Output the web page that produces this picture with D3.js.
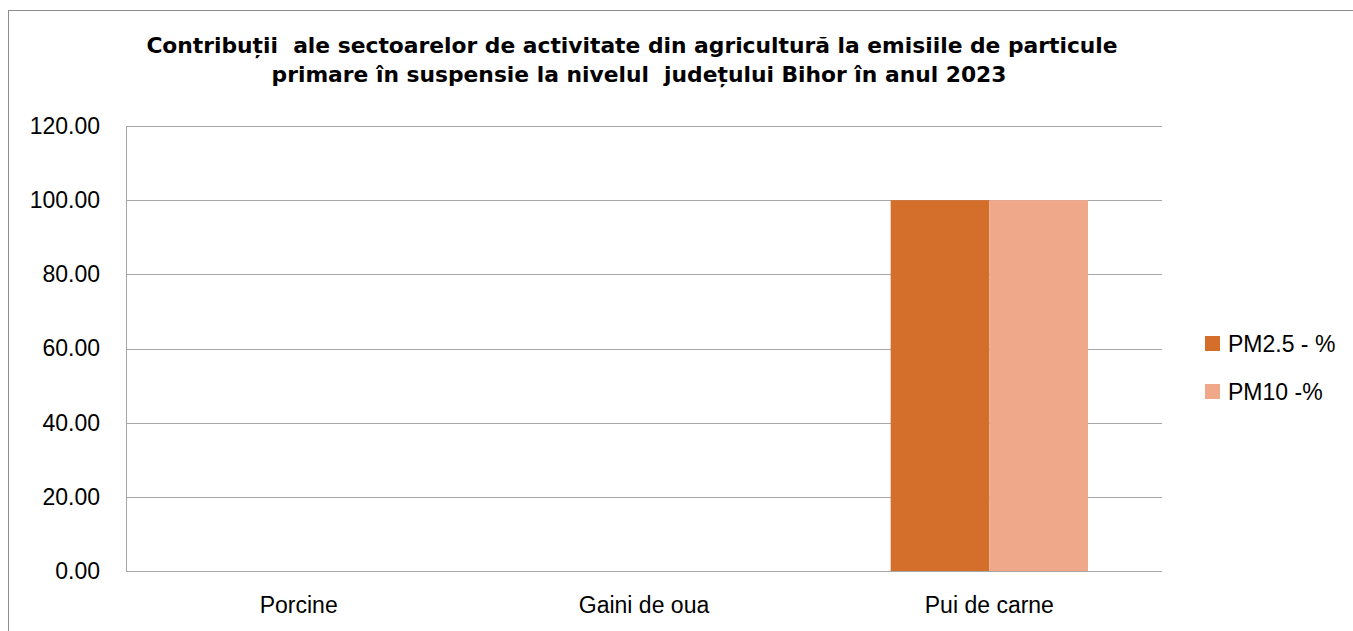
<!DOCTYPE html>
<html>
<head>
<meta charset="utf-8">
<script src="https://cdn.jsdelivr.net/npm/d3@7"></script>
<style>
  body { margin: 0; background: #fff; }
  svg { display: block; }
</style>
</head>
<body>
<svg id="chart"></svg>
<script>
// Data
const categories = ["Porcine", "Gaini de oua", "Pui de carne"];
const seriesNames = ["PM2.5 - %", "PM10 -%"];
const pm25 = [0, 0, 100];
const pm10 = [0, 0, 100];
const yTicks = [0, 20, 40, 60, 80, 100, 120];
const titleLines = [
  "Contribuții  ale sectoarelor de activitate din agricultură la emisiile de particule",
  "primare în suspensie la nivelul  județului Bihor în anul 2023"
];

const width = 1353;
const height = 631;
const colors = ["#D36F2B", "#F0A88A"];
const font = "Liberation Sans, Arial, sans-serif";

const svg = d3.select("#chart").attr("width", width).attr("height", height);

// Chart frame
svg.append("rect")
  .attr("x", 8.5).attr("y", 10.5)
  .attr("width", width).attr("height", height)
  .attr("fill", "none").attr("stroke", "#8c8c8c");

// Title (two centred lines)
svg.append("text")
  .attr("y", 53)
  .attr("text-anchor", "middle")
  .attr("font-family", "DejaVu Sans")
  .attr("font-weight", "bold")
  .attr("font-size", 21.8)
  .attr("fill", "#000")
  .style("white-space", "pre")
  .selectAll("tspan")
  .data(titleLines)
  .enter()
  .append("tspan")
  .attr("x", (d, i) => (i === 0 ? 632 : 639))
  .attr("dy", (d, i) => (i === 0 ? 0 : 29))
  .text((d) => d);

// Scales
const plotLeft = 126, plotRight = 1162, plotTop = 126, plotBottom = 571;

const xScale = d3.scaleBand().domain(categories).range([plotLeft, plotRight]);
const inner = d3.scaleBand()
  .domain(seriesNames)
  .range([0, xScale.bandwidth()])
  .paddingInner(0)
  .paddingOuter(0.75);
const yScale = d3.scaleLinear().domain([0, 120]).range([plotBottom, plotTop]);

// Gridlines
svg.append("g")
  .selectAll("line")
  .data(yTicks)
  .enter()
  .append("line")
  .attr("x1", plotLeft).attr("x2", plotRight)
  .attr("y1", (d) => Math.round(yScale(d)) + 0.5)
  .attr("y2", (d) => Math.round(yScale(d)) + 0.5)
  .attr("stroke", "#a6a6a6");

// Left axis line
svg.append("line")
  .attr("x1", plotLeft + 0.5).attr("x2", plotLeft + 0.5)
  .attr("y1", plotTop).attr("y2", plotBottom)
  .attr("stroke", "#a6a6a6");

// Bars
const rows = categories.map((c, i) => ({ cat: c, values: [pm25[i], pm10[i]] }));
const groups = svg.append("g")
  .selectAll("g")
  .data(rows)
  .enter()
  .append("g")
  .attr("transform", (d) => "translate(" + xScale(d.cat) + ",0)");

groups.selectAll("rect")
  .data((d) => d.values.map((v, j) => ({ name: seriesNames[j], value: v, j: j })))
  .enter()
  .append("rect")
  .attr("x", (d) => inner(d.name))
  .attr("width", inner.bandwidth())
  .attr("y", (d) => yScale(d.value))
  .attr("height", (d) => yScale(0) - yScale(d.value))
  .attr("fill", (d) => colors[d.j]);

// Axes
const yAxis = d3.axisLeft(yScale)
  .tickValues(yTicks)
  .tickFormat(d3.format(".2f"))
  .tickSize(0)
  .tickPadding(26);

const yG = svg.append("g").attr("transform", "translate(" + plotLeft + ",0)").call(yAxis);
yG.select(".domain").remove();
yG.selectAll("text")
  .attr("font-family", font)
  .attr("font-size", 23)
  .attr("fill", "#000");

const xAxis = d3.axisBottom(xScale).tickSize(0).tickPadding(25.5);
const xG = svg.append("g").attr("transform", "translate(0," + plotBottom + ")").call(xAxis);
xG.select(".domain").remove();
xG.selectAll("text")
  .attr("font-family", font)
  .attr("font-size", 23)
  .attr("fill", "#000");

// Legend
const legend = svg.append("g")
  .selectAll("g")
  .data(seriesNames)
  .enter()
  .append("g")
  .attr("transform", (d, i) => "translate(1205," + (336 + i * 48) + ")");

legend.append("rect")
  .attr("width", 15).attr("height", 15)
  .attr("fill", (d, i) => colors[i]);

legend.append("text")
  .attr("x", 23).attr("y", 16)
  .attr("font-family", font)
  .attr("font-size", 23)
  .attr("fill", "#000")
  .text((d) => d);
</script>
</body>
</html>
